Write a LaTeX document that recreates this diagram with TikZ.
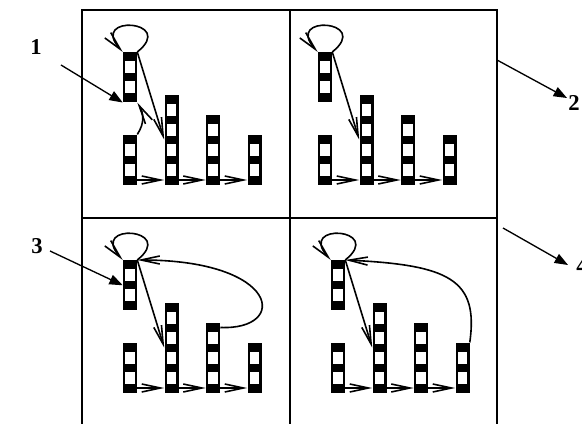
\documentclass[tikz,border=0pt]{standalone}
\usepackage{fontspec}
\setmainfont{Liberation Serif}
\usetikzlibrary{arrows.meta}

\begin{document}
\begin{tikzpicture}[
    x=0.75pt, y=-0.75pt,
    frame/.style={line width=1.1pt},
    cellbar/.style={
        fill=black,
        inner sep=0pt,
        minimum width=10.5pt,
        minimum height=#1*7.5pt,
        anchor=south,
        path picture={
            \pgfmathtruncatemacro\nwhite{(#1-1)/2}
            \foreach \k in {1,...,\nwhite}
                \fill[white] ([shift={(2.2,{(2*\k-1)*10-1.2})}]path picture bounding box.north west)
                    rectangle ([shift={(11.8,{2*\k*10+1.2})}]path picture bounding box.north west);
        }
    },
    arr/.style={
        -{Straight Barb[length=14pt,width=6pt]},
        line width=1.2pt
    },
    pointer/.style={
        -{Triangle[length=10pt,width=7.5pt]},
        line width=1pt
    },
    digit/.style={
        font=\fontsize{17}{20}\selectfont\bfseries,
        inner sep=0pt
    }
]
\useasboundingbox (0,0) rectangle (582,424);
\clip (0,0) rectangle (582,424);

% Frame with four panels
\draw[frame] (82,430) -- (82,10) -- (497,10) -- (497,430);
\draw[frame] (290,10) -- (290,430);
\draw[frame] (82,218) -- (497,218);

% Bars, loop and diagonal in every panel
\foreach \p/\ox/\oy in {a/123/185, b/318/185, c/123/393, d/331/393} {
    \node[cellbar=5] (\p1) at (\ox+7,\oy) {};
    \node[cellbar=9] (\p2) at (\ox+48.5,\oy) {};
    \node[cellbar=7] (\p3) at (\ox+90,\oy) {};
    \node[cellbar=5] (\p4) at (\ox+131.5,\oy) {};
    \node[cellbar=5, anchor=north] (\p0) at (\ox+7,\oy-133) {};
    \draw[arr] ([yshift=3.75pt]\p1.south east) -- ([yshift=3.75pt]\p2.south west);
    \draw[arr] ([yshift=3.75pt]\p2.south east) -- ([yshift=3.75pt]\p3.south west);
    \draw[arr] ([yshift=3.75pt]\p3.south east) -- ([yshift=3.75pt]\p4.south west);
    \draw[arr] (\p0.north east) .. controls +(40,-32) and +(-34,-38) .. (\p0.north west);
    \draw[arr] (\p0.north east) -- (\p2.west);
}

% Back links
\draw[arr] (a1.north east) .. controls +(8,-12) and +(6,10) .. (a0.south east);
\draw[arr] ([yshift=-3.75pt]c3.north east) .. controls +(69,3) and +(143,0) .. (c0.north east);
\draw[arr] (d4.north east) .. controls +(9,-63) and +(104,5) .. (d0.north east);

% Numbered pointers
\node[digit] (l1) at (36,47) {1};
\node[digit] (l2) at (574,103) {2};
\node[digit] (l3) at (37,246) {3};
\node[digit] (l4) at (582,266) {4};

\coordinate (p1tail) at (61,65);
\coordinate (p2tail) at (497,60);
\coordinate (p2head) at (567,98);
\coordinate (p3tail) at (50,251);
\coordinate (p4tail) at (503,228);
\coordinate (p4head) at (568,265);

\draw[pointer] (p1tail) -- (a0.south west);
\draw[pointer] (p2tail) -- (p2head);
\draw[pointer] (p3tail) -- (c0.west);
\draw[pointer] (p4tail) -- (p4head);

\end{tikzpicture}
\end{document}
